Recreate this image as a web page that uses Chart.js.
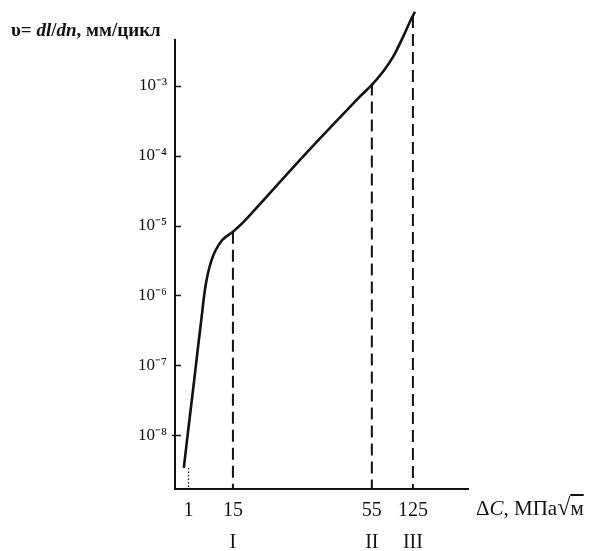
<!DOCTYPE html>
<html>
<head>
<meta charset="utf-8">
<script src="https://cdn.jsdelivr.net/npm/chart.js@4/dist/chart.umd.min.js"></script>
<style>
  html, body { margin: 0; padding: 0; background: #fff; }
  #wrap { position: relative; width: 597px; height: 551px; }
  canvas { position: absolute; left: 0; top: 0; }
  .lbl { position: absolute; font-family: "Liberation Serif", "Times New Roman", serif; color: #111; white-space: nowrap; }
  #ytitle { left: 11px; top: 20px; font-size: 19px; font-weight: bold; line-height: 19px; }
  #xtitle { left: 476px; top: 497px; font-size: 21px; line-height: 21px; }
  .rad { font-size: 24px; }
  .ov { text-decoration: overline; }
</style>
</head>
<body>
<div id="wrap">
  <canvas id="c" width="597" height="551"></canvas>
  <div class="lbl" id="ytitle">υ= <i>dl</i>/<i>dn</i>, мм/цикл</div>
  <div class="lbl" id="xtitle">Δ<i>C</i>, МПа<span class="rad">√</span><span class="ov">м</span></div>
</div>
<script>
// ---- data ----
// stress intensity range ΔK (MPa√m) along the curve
const deltaK = [0.652, 0.926, 1.885, 3.086, 4.255, 5.172, 5.899, 6.626, 7.574, 9.059, 11.65, 15, 17.71, 34.73, 51.54, 55, 74.3, 91.4, 108.4, 119.9, 126.3];
// crack growth rate v = dl/dn (mm/cycle)
const rate = [3.39e-9, 9.73e-9, 2.79e-8, 8.02e-8, 2.30e-7, 5.08e-7, 9.82e-7, 1.61e-6, 2.51e-6, 3.98e-6, 6.21e-6, 8.17e-6, 1.08e-5, 9.18e-5, 7.0e-4, 1.03e-3, 1.60e-3, 2.61e-3, 5.06e-3, 8.28e-3, 1.15e-2];
// reference lines (threshold and stage boundaries)
const markerK = [1, 15, 55, 125];
const markerRate = [3.39e-9, 8.17e-6, 1.08e-3, 1.0e-2];
// x tick labels
const xTickValues = [1, 15, 55, 125];
const xTickStage = ['', 'I', 'II', 'III'];
// y tick exponents
const yTickExponents = [-8, -7, -6, -5, -4, -3];

// ---- axis extents / schematic x mapping (layout) ----
const Y_MIN = Math.pow(10, -8.771);
const Y_MAX = Math.pow(10, -2.344);
const X_BREAK_VALUES = [0, 1, 15, 55, 125, 160];
const X_BREAK_FRACTIONS = [0, 0.0462, 0.1977, 0.6718, 0.8120, 1];

class SchematicScale extends Chart.LinearScale {
  getPixelForValue(value) {
    if (value === null || value === undefined || isNaN(value)) return NaN;
    const b = X_BREAK_VALUES, f = X_BREAK_FRACTIONS;
    let i = 1;
    while (i < b.length - 1 && value > b[i]) i++;
    const t = (value - b[i - 1]) / (b[i] - b[i - 1]);
    return this.getPixelForDecimal(f[i - 1] + t * (f[i] - f[i - 1]));
  }
  getValueForPixel(pixel) {
    const d = this.getDecimalForPixel(pixel);
    const b = X_BREAK_VALUES, f = X_BREAK_FRACTIONS;
    let i = 1;
    while (i < f.length - 1 && d > f[i]) i++;
    const t = (d - f[i - 1]) / (f[i] - f[i - 1]);
    return b[i - 1] + t * (b[i] - b[i - 1]);
  }
}
SchematicScale.id = 'schematic';
SchematicScale.defaults = Chart.LinearScale.defaults;
Chart.register(SchematicScale);

const SUP = {'-': '\u207B', '0': '\u2070', '1': '\u00B9', '2': '\u00B2', '3': '\u00B3', '4': '\u2074', '5': '\u2075', '6': '\u2076', '7': '\u2077', '8': '\u2078', '9': '\u2079'};
const sup = s => String(s).split('').map(ch => SUP[ch] || ch).join('');

Chart.defaults.font.family = '"Liberation Serif", "Times New Roman", serif';
Chart.defaults.color = '#111';

const datasets = [{
  data: deltaK.map((k, i) => ({x: k, y: rate[i]})),
  borderColor: '#111',
  borderWidth: 2.6,
  pointRadius: 0,
  tension: 0.3,
  clip: false
}];
markerK.forEach((k, i) => {
  const dotted = i === 0;
  datasets.push({
    data: [{x: k, y: markerRate[i]}, {x: k, y: Y_MIN}],
    borderColor: '#111',
    borderWidth: dotted ? 1.2 : 2,
    borderDash: dotted ? [1.5, 2] : [12, 6],
    pointRadius: 0,
    clip: false
  });
});

const insideTicks = {
  id: 'insideTicks',
  afterDraw(chart) {
    const ctx = chart.ctx, y = chart.scales.y, left = chart.chartArea.left;
    ctx.save();
    ctx.strokeStyle = '#111';
    ctx.lineWidth = 1.5;
    yTickExponents.forEach(e => {
      const py = Math.round(y.getPixelForValue(Math.pow(10, e))) + 0.5;
      ctx.beginPath();
      ctx.moveTo(left - (e === -8 ? 3 : 0), py);
      ctx.lineTo(left + 6, py);
      ctx.stroke();
    });
    ctx.restore();
  }
};

new Chart(document.getElementById('c'), {
  type: 'line',
  data: {datasets},
  plugins: [insideTicks],
  options: {
    responsive: false,
    animation: false,
    devicePixelRatio: 1,
    layout: {padding: {left: 0, right: 129, top: 40, bottom: 0}},
    plugins: {legend: {display: false}, tooltip: {enabled: false}},
    scales: {
      x: {
        type: 'schematic',
        position: 'bottom',
        min: 0,
        max: 160,
        bounds: 'data',
        afterBuildTicks: s => { s.ticks = xTickValues.map(v => ({value: v})); },
        afterFit: s => { s.height = 62; },
        grid: {display: false, drawTicks: false},
        border: {display: true, width: 2, color: '#111'},
        ticks: {
          autoSkip: false,
          maxRotation: 0,
          padding: 6,
          font: {size: 20, lineHeight: 1.58},
          color: '#111',
          callback: (v, i) => [String(xTickValues[i]), xTickStage[i]]
        }
      },
      y: {
        type: 'logarithmic',
        position: 'left',
        min: Y_MIN,
        max: Y_MAX,
        bounds: 'data',
        afterBuildTicks: s => { s.ticks = yTickExponents.map(e => ({value: Math.pow(10, e)})); },
        afterFit: s => { s.width = 175; },
        grid: {display: false, drawTicks: false},
        border: {display: true, width: 2, color: '#111'},
        ticks: {
          autoSkip: false,
          padding: 8,
          font: {size: 17},
          color: '#111',
          callback: (v, i) => '10' + sup(yTickExponents[i])
        }
      }
    }
  }
});
</script>
</body>
</html>
